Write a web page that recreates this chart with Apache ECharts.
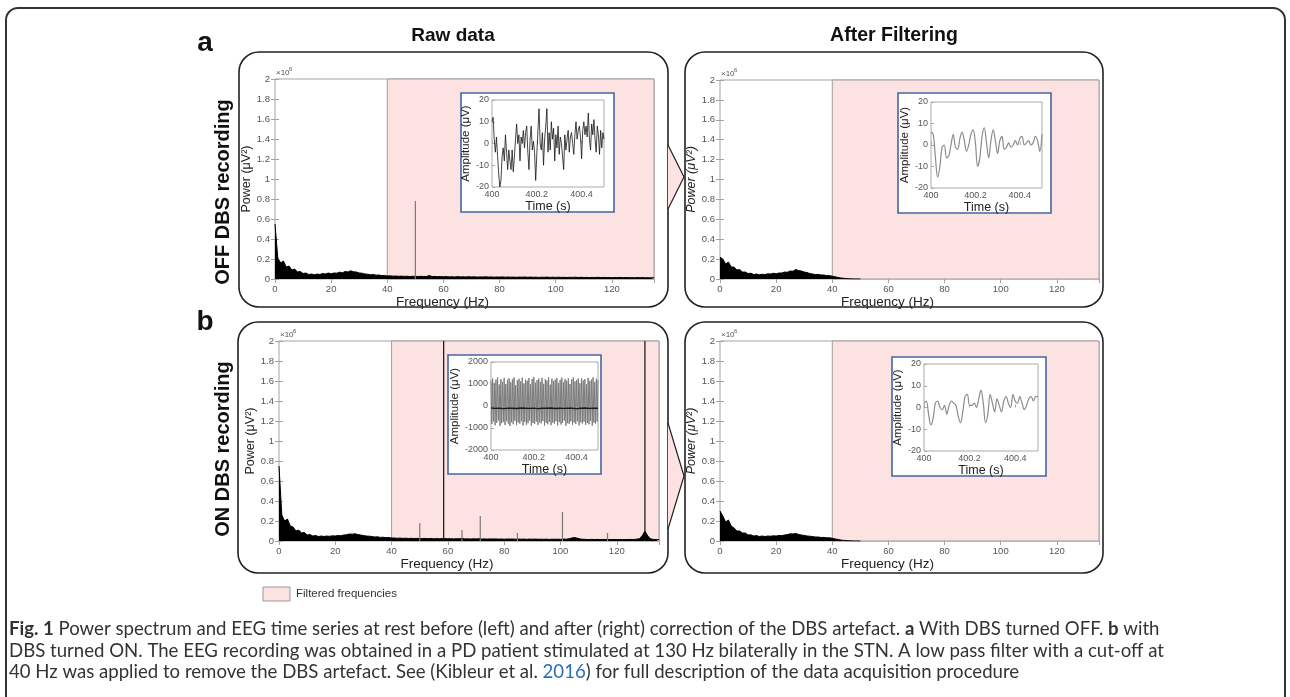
<!DOCTYPE html>
<html>
<head>
<meta charset="utf-8">
<title>Power spectrum and EEG before / after DBS artefact correction</title>
<script src="https://cdn.jsdelivr.net/npm/echarts@6/dist/echarts.min.js"></script>
<style>
html, body { margin: 0; padding: 0; background: #fff; }
#fig { width: 1290px; height: 697px; }
</style>
</head>
<body>
<div id="fig"></div>
<script>
// ---- values ----
// power spectra: one value per 1 Hz bin from 0 Hz, unit 10^6 µV²
var offRawPower = [
  0.55, 0.21, 0.16, 0.18, 0.12, 0.13, 0.09, 0.10, 0.07, 0.075,
  0.055, 0.06, 0.045, 0.05, 0.042, 0.05, 0.045, 0.055, 0.05, 0.06,
  0.052, 0.06, 0.058, 0.068, 0.062, 0.075, 0.07, 0.082, 0.072, 0.07,
  0.06, 0.058, 0.05, 0.048, 0.042, 0.045, 0.038, 0.04, 0.034, 0.036,
  0.03, 0.032, 0.028, 0.03, 0.027, 0.029, 0.026, 0.028, 0.025, 0.027,
  0.026, 0.025, 0.027, 0.024, 0.026, 0.035, 0.024, 0.025, 0.023, 0.025,
  0.022, 0.024, 0.021, 0.023, 0.02, 0.024, 0.021, 0.022, 0.02, 0.023,
  0.021, 0.022, 0.019, 0.021, 0.02, 0.022, 0.019, 0.021, 0.018, 0.02,
  0.019, 0.021, 0.018, 0.02, 0.018, 0.019, 0.017, 0.019, 0.018, 0.02,
  0.017, 0.019, 0.017, 0.018, 0.016, 0.018, 0.017, 0.019, 0.016, 0.018,
  0.016, 0.018, 0.016, 0.017, 0.015, 0.017, 0.016, 0.018, 0.015, 0.017,
  0.015, 0.016, 0.014, 0.016, 0.015, 0.017, 0.014, 0.016, 0.014, 0.015,
  0.013, 0.015, 0.014, 0.016, 0.013, 0.015, 0.013, 0.014, 0.012, 0.014,
  0.013, 0.014, 0.012, 0.013, 0.012, 0.013
];
var offFiltPower = [
  0.22, 0.2, 0.15, 0.17, 0.12, 0.12, 0.09, 0.095, 0.07, 0.07,
  0.055, 0.058, 0.045, 0.05, 0.042, 0.048, 0.045, 0.052, 0.05, 0.058,
  0.052, 0.06, 0.06, 0.07, 0.068, 0.08, 0.078, 0.095, 0.085, 0.08,
  0.07, 0.065, 0.055, 0.05, 0.045, 0.046, 0.04, 0.04, 0.034, 0.034,
  0.028, 0.022, 0.016, 0.011, 0.007, 0.004, 0.002, 0.001, 0, 0,
  0
];
var onRawPower = [
  0.75, 0.26, 0.2, 0.22, 0.15, 0.14, 0.1, 0.11, 0.08, 0.085,
  0.06, 0.065, 0.05, 0.055, 0.045, 0.05, 0.045, 0.05, 0.047, 0.052,
  0.05, 0.055, 0.052, 0.06, 0.062, 0.07, 0.068, 0.072, 0.065, 0.06,
  0.055, 0.05, 0.048, 0.045, 0.04, 0.042, 0.036, 0.038, 0.033, 0.035,
  0.03, 0.03, 0.027, 0.029, 0.026, 0.028, 0.025, 0.027, 0.024, 0.026,
  0.025, 0.024, 0.026, 0.023, 0.025, 0.022, 0.024, 0.022, 0.025, 0.024,
  0.022, 0.023, 0.021, 0.023, 0.022, 0.026, 0.021, 0.022, 0.02, 0.022,
  0.021, 0.023, 0.02, 0.021, 0.019, 0.021, 0.02, 0.021, 0.019, 0.02,
  0.018, 0.02, 0.019, 0.02, 0.018, 0.02, 0.018, 0.019, 0.017, 0.019,
  0.018, 0.019, 0.017, 0.018, 0.017, 0.018, 0.016, 0.018, 0.017, 0.018,
  0.017, 0.019, 0.018, 0.022, 0.03, 0.034, 0.028, 0.02, 0.017, 0.016,
  0.015, 0.016, 0.015, 0.016, 0.014, 0.016, 0.015, 0.016, 0.014, 0.015,
  0.014, 0.015, 0.014, 0.015, 0.014, 0.016, 0.015, 0.018, 0.022, 0.05,
  0.1, 0.05, 0.022, 0.016, 0.014, 0.014
];
var onFiltPower = [
  0.3, 0.25, 0.19, 0.21, 0.15, 0.13, 0.1, 0.1, 0.08, 0.08,
  0.06, 0.062, 0.05, 0.054, 0.045, 0.05, 0.045, 0.05, 0.048, 0.052,
  0.05, 0.055, 0.054, 0.06, 0.064, 0.072, 0.07, 0.075, 0.066, 0.06,
  0.056, 0.05, 0.048, 0.044, 0.04, 0.04, 0.035, 0.036, 0.032, 0.032,
  0.027, 0.021, 0.015, 0.01, 0.006, 0.004, 0.002, 0.001, 0, 0,
  0
];

// narrow line peaks in the raw spectra
var offRawPeakHz = [50];
var offRawPeakPow = [0.78];
var onRawPeakHz = [50, 58.5, 65, 71.5, 84.7, 100.7, 116.7, 130];
var onRawPeakPow = [0.18, 2.5, 0.11, 0.25, 0.08, 0.29, 0.08, 2.5];

var cutoffHz = 40;
var maxHz = 135;

// inset EEG traces from 400 s to 400.5 s (µV)
var offRawTrace = [ // every 5 ms
  10, 12, 2, -4, 3, -6, -14, -20, -17, -6,
  -2, -8, 4, -4, -12, -3, -8, -12, -3, -13,
  -6, 2, 9, 0, 4, -8, 3, 0, 6, -2,
  5, 8, -4, -12, 2, 8, -3, 1, -4, -17,
  -5, 6, 16, 0, -3, 5, -10, 2, 8, 16,
  -4, 5, -3, 10, 2, 7, -8, 4, -2, 8,
  -5, 3, 0, -6, -12, 4, -3, 2, 6, -4,
  3, 5, 0, -5, 4, 10, 2, 6, 8, 3,
  -7, 6, 10, 4, 8, 3, 14, 2, -3, 9,
  4, 11, 2, -4, 8, 4, -5, 6, -2, 5,
  2
];
var offFiltTrace = [ // every 10 ms
  6, 5, -6, -15, -10, -1, 0, -6, -5, 0,
  5, -1, -2, 3, 6, 2, -3, 0, 5, 7,
  1, -10, -6, 4, 8, 1, -6, 2, 7, 2,
  -4, 2, 4, -2, -1, 1, -1, 0, 2, 0,
  3, 4, 0, 1, 2, 0, 1, 4, 2, -3,
  5
];
// stimulation artefact: alternating peaks and troughs (130 Hz)
var onRawPeaks = [
  1150, 1250, 1050, 1200, 1300, 980, 1220, 1100, 1280, 1000,
  1190, 1260, 1080, 1210, 1300, 950, 1170, 1240, 1120, 1290,
  1030, 1200, 1150, 1270, 990, 1230, 1310, 1060, 1180, 1250,
  1100, 1280, 1010, 1220, 1160, 1300, 970, 1240, 1130, 1200,
  1270, 1050, 1190, 1290, 1080, 1230, 1150, 1260, 1000, 1210,
  1300, 1120, 1180, 1250, 1040, 1270, 1160, 1220, 990, 1280,
  1140, 1200, 1300, 1090, 1240, 1170
];
var onRawTroughs = [
  -820, -700, -880, -760, -650, -900, -780, -720, -860, -690,
  -800, -910, -740, -830, -670, -870, -750, -800, -690, -880,
  -720, -850, -780, -660, -900, -770, -820, -700, -860, -740,
  -790, -680, -890, -760, -830, -710, -870, -750, -800, -690,
  -880, -730, -840, -770, -660, -900, -780, -810, -700, -860,
  -750, -820, -690, -880, -740, -800, -720, -860, -770, -830,
  -680, -890, -760, -800, -710
];
var onRawBaseline = [ // every 20 ms
  -90, -110, -100, -120, -95, -105, -115, -90, -100, -110,
  -95, -120, -100, -105, -90, -115, -100, -110, -95, -105,
  -120, -100, -90, -110, -100, -105
];
var onFiltTrace = [ // every 10 ms
  2, 3, -3, -8, -5, 2, 3, 0, -1, 1,
  -3, 1, 3, 2, 1, -4, -7, -2, 5, 6,
  1, 1, 2, 0, 4, 8, 2, -7, -3, 6,
  2, -2, 4, 1, -2, 3, 5, 2, 0, 6,
  3, 2, 5, 2, -1, 1, 4, 5, 3, 5,
  5
];

// ---- chart ----
var PINK = '#fde2e2';
var AX = '#a3a3a3';
var TICKTXT = '#555';
var SANS = '"Liberation Sans", Arial, sans-serif';
var CAPFONT = 'Lato, "Noto Sans", sans-serif';

function pairs(vals, start, step) {
  return vals.map(function (v, i) { return [start + i * step, v]; });
}
function fmtPow(v) { return String(Math.round(v * 10) / 10); }
function fmtTime(v) { return v === 0 ? '400' : (400 + v).toFixed(1); }

var grids = [], xAxes = [], yAxes = [], series = [], graphics = [];

function addSpectrum(g, power, peakHz, peakPow, italic) {
  var gi = grids.length;
  grids.push({ left: g.left, top: g.top, width: g.width, height: g.height,
    show: true, borderColor: AX, borderWidth: 1, backgroundColor: '#fff' });
  var xi = xAxes.length, yi = yAxes.length;
  var tick = { inside: true, length: 4, lineStyle: { color: AX } };
  xAxes.push({
    gridIndex: gi, type: 'value', min: 0, max: maxHz, interval: 20, position: 'bottom',
    axisLine: { show: false }, axisTick: tick, splitLine: { show: false },
    axisLabel: { color: TICKTXT, fontSize: 9.5, margin: 5, fontFamily: SANS, showMaxLabel: false },
    name: 'Frequency (Hz)', nameLocation: 'middle', nameGap: 14,
    nameTextStyle: { color: '#222', fontSize: 13.5, fontFamily: SANS, padding: [0, 44, 0, 0] }
  });
  xAxes.push({
    gridIndex: gi, type: 'value', min: 0, max: maxHz, interval: 20, position: 'top',
    axisLine: { show: false }, axisTick: tick, axisLabel: { show: false }, splitLine: { show: false }
  });
  yAxes.push({
    gridIndex: gi, type: 'value', min: 0, max: 2, interval: 0.2, position: 'left',
    axisLine: { show: false }, axisTick: tick, splitLine: { show: false },
    axisLabel: { color: TICKTXT, fontSize: 9.5, margin: 5, fontFamily: SANS, formatter: fmtPow },
    name: 'Power (μV²)', nameLocation: 'middle', nameGap: 19,
    nameTextStyle: { color: '#222', fontSize: 12.5, fontFamily: SANS, fontStyle: italic ? 'italic' : 'normal' }
  });
  yAxes.push({
    gridIndex: gi, type: 'value', min: 0, max: 2, interval: 0.2, position: 'right',
    axisLine: { show: false }, axisTick: tick, axisLabel: { show: false }, splitLine: { show: false }
  });
  // filtered band
  series.push({
    type: 'line', xAxisIndex: xi, yAxisIndex: yi, data: [[cutoffHz, 0]], symbol: 'none',
    lineStyle: { opacity: 0 }, silent: true, z: 1,
    markArea: { silent: true, itemStyle: { color: PINK, borderColor: '#9d9d9d', borderWidth: 1 },
      data: [[{ xAxis: cutoffHz }, { xAxis: maxHz }]] }
  });
  series.push({
    type: 'line', xAxisIndex: xi, yAxisIndex: yi, data: pairs(power, 0, 1),
    symbol: 'none', silent: true, z: 3,
    lineStyle: { color: '#000', width: 1 }, areaStyle: { color: '#000', opacity: 1 }
  });
  if (peakHz.length) {
    series.push({
      type: 'bar', xAxisIndex: xi, yAxisIndex: yi, barWidth: 1.2, silent: true, z: 4,
      data: peakHz.map(function (f, i) {
        return { value: [f, peakPow[i]], itemStyle: { color: peakPow[i] > 2 ? '#111' : '#7a7a7a' } };
      })
    });
  }
  graphics.push({ type: 'text', x: g.left + 1, y: g.top - 6, z: 20,
    style: { text: '×10', fontSize: 8, fontFamily: SANS, fill: TICKTXT, verticalAlign: 'middle' } });
  graphics.push({ type: 'text', x: g.left + 14, y: g.top - 10, z: 20,
    style: { text: '6', fontSize: 6, fontFamily: SANS, fill: TICKTXT, verticalAlign: 'middle' } });
}

function addInset(box, g, yMin, yMax, yInt, traces) {
  graphics.push({ type: 'rect', z: 6, shape: { x: box.x, y: box.y, width: box.w, height: box.h },
    style: { fill: '#fff', stroke: '#4565a3', lineWidth: 1.6 } });
  var gi = grids.length;
  grids.push({ left: g.left, top: g.top, width: g.width, height: g.height, z: 8,
    show: true, borderColor: '#aaa', borderWidth: 1, backgroundColor: 'transparent' });
  var xi = xAxes.length, yi = yAxes.length;
  var tick = { inside: true, length: 3, lineStyle: { color: '#aaa' } };
  xAxes.push({
    gridIndex: gi, type: 'value', min: 0, max: 0.5, interval: 0.2, z: 9,
    axisLine: { show: false }, axisTick: tick, splitLine: { show: false },
    axisLabel: { color: TICKTXT, fontSize: 9, margin: 3, fontFamily: SANS, formatter: fmtTime, showMaxLabel: false },
    name: 'Time (s)', nameLocation: 'middle', nameGap: 12,
    nameTextStyle: { color: '#222', fontSize: 12.5, fontFamily: SANS }
  });
  yAxes.push({
    gridIndex: gi, type: 'value', min: yMin, max: yMax, interval: yInt, z: 9,
    axisLine: { show: false }, axisTick: tick, splitLine: { show: false },
    axisLabel: { color: TICKTXT, fontSize: 9, margin: 3, fontFamily: SANS, formatter: function (v) { return String(v); } },
    name: 'Amplitude (μV)', nameLocation: 'middle', nameGap: yMax > 100 ? 30 : 14,
    nameTextStyle: { color: '#222', fontSize: 11.5, fontFamily: SANS }
  });
  traces.forEach(function (t) {
    series.push({
      type: 'line', xAxisIndex: xi, yAxisIndex: yi, data: t.data, symbol: 'none',
      silent: true, z: 9, smooth: t.smooth || false,
      lineStyle: { color: t.color, width: t.width }
    });
  });
}

// spectra
addSpectrum({ left: 275, top: 79, width: 379, height: 200 }, offRawPower, offRawPeakHz, offRawPeakPow, false);
addSpectrum({ left: 720, top: 80, width: 379, height: 199 }, offFiltPower, [], [], true);
addSpectrum({ left: 279, top: 341, width: 380, height: 200 }, onRawPower, onRawPeakHz, onRawPeakPow, false);
addSpectrum({ left: 720, top: 341, width: 379, height: 200 }, onFiltPower, [], [], true);

// insets
var onRawAlt = [];
onRawPeaks.forEach(function (p, i) {
  onRawAlt.push(p);
  if (i < onRawTroughs.length) onRawAlt.push(onRawTroughs[i]);
});
addInset({ x: 461, y: 93, w: 153, h: 119 }, { left: 492, top: 100, width: 112, height: 87 }, -20, 20, 10,
  [{ data: pairs(offRawTrace, 0, 0.005), color: '#151515', width: 0.8 }]);
addInset({ x: 898, y: 93, w: 153, h: 120 }, { left: 931, top: 102, width: 111, height: 86 }, -20, 20, 10,
  [{ data: pairs(offFiltTrace, 0, 0.01), color: '#8c8c8c', width: 1.2, smooth: 0.35 }]);
addInset({ x: 448, y: 355, w: 153, h: 119 }, { left: 491, top: 362, width: 107, height: 88 }, -2000, 2000, 1000,
  [{ data: pairs(onRawAlt, 0, 0.5 / (onRawAlt.length - 1)), color: '#7c7c7c', width: 1 },
   { data: pairs(onRawBaseline, 0, 0.02), color: '#1a1a1a', width: 1.4 }]);
addInset({ x: 892, y: 357, w: 154, h: 119 }, { left: 924, top: 364, width: 114, height: 87 }, -20, 20, 10,
  [{ data: pairs(onFiltTrace, 0, 0.01), color: '#8c8c8c', width: 1.2, smooth: 0.35 }]);

// frames, labels, arrows, legend, caption
var boxStyle = { fill: 'none', stroke: '#222', lineWidth: 1.6 };
graphics.push(
  { type: 'rect', z: 0, shape: { x: 6, y: 8, width: 1279, height: 720, r: 12 }, style: { fill: 'none', stroke: '#333', lineWidth: 2 } },
  { type: 'rect', z: 0, shape: { x: 239, y: 52, width: 429, height: 255, r: 20 }, style: boxStyle },
  { type: 'rect', z: 0, shape: { x: 685, y: 52, width: 418, height: 255, r: 20 }, style: boxStyle },
  { type: 'rect', z: 0, shape: { x: 238, y: 322, width: 430, height: 251, r: 20 }, style: boxStyle },
  { type: 'rect', z: 0, shape: { x: 685, y: 322, width: 418, height: 251, r: 20 }, style: boxStyle },
  { type: 'polygon', z: 1, shape: { points: [[668, 145], [684, 177], [668, 209]] }, style: { fill: PINK } },
  { type: 'polyline', z: 1, shape: { points: [[668, 145], [684, 177], [668, 209]] }, style: { stroke: '#222', lineWidth: 1.2 } },
  { type: 'polygon', z: 1, shape: { points: [[668, 423], [684, 476], [668, 529]] }, style: { fill: PINK } },
  { type: 'polyline', z: 1, shape: { points: [[668, 423], [684, 476], [668, 529]] }, style: { stroke: '#222', lineWidth: 1.2 } },
  { type: 'text', x: 205, y: 43, style: { text: 'a', fontSize: 28, fontWeight: 'bold', fontFamily: SANS, fill: '#111', align: 'center', verticalAlign: 'middle' } },
  { type: 'text', x: 205, y: 322, style: { text: 'b', fontSize: 28, fontWeight: 'bold', fontFamily: SANS, fill: '#111', align: 'center', verticalAlign: 'middle' } },
  { type: 'text', x: 453, y: 36, style: { text: 'Raw data', fontSize: 19, fontWeight: 'bold', fontFamily: SANS, fill: '#111', align: 'center', verticalAlign: 'middle' } },
  { type: 'text', x: 894, y: 36, style: { text: 'After Filtering', fontSize: 19.5, fontWeight: 'bold', fontFamily: SANS, fill: '#111', align: 'center', verticalAlign: 'middle' } },
  { type: 'text', x: 223, y: 192, rotation: Math.PI / 2, style: { text: 'OFF DBS recording', fontSize: 20, fontWeight: 'bold', fontFamily: SANS, fill: '#111', align: 'center', verticalAlign: 'middle' } },
  { type: 'text', x: 223, y: 449, rotation: Math.PI / 2, style: { text: 'ON DBS recording', fontSize: 20, fontWeight: 'bold', fontFamily: SANS, fill: '#111', align: 'center', verticalAlign: 'middle' } },
  { type: 'rect', z: 0, shape: { x: 263, y: 587, width: 27, height: 14 }, style: { fill: PINK, stroke: '#999', lineWidth: 1 } },
  { type: 'text', x: 296, y: 594, style: { text: 'Filtered frequencies', fontSize: 11.5, fontFamily: SANS, fill: '#333', verticalAlign: 'middle' } }
);

var capSize = 18.6;
var capFont = { fontSize: capSize, fontFamily: CAPFONT, fill: '#333' };
var capRich = {
  b: { fontSize: capSize, fontFamily: CAPFONT, fontWeight: 'bold', fill: '#333' },
  l: { fontSize: capSize, fontFamily: CAPFONT, fill: '#2a6ebb' }
};
var captionLines = [
  '{b|Fig. 1} Power spectrum and EEG time series at rest before (left) and after (right) correction of the DBS artefact. {b|a} With DBS turned OFF. {b|b} with',
  'DBS turned ON. The EEG recording was obtained in a PD patient stimulated at 130 Hz bilaterally in the STN. A low pass filter with a cut-off at',
  '40 Hz was applied to remove the DBS artefact. See (Kibleur et al. {l|2016}) for full description of the data acquisition procedure'
];
captionLines.forEach(function (line, i) {
  graphics.push({ type: 'text', x: 9, y: 629 + i * 21.5, z: 20,
    style: Object.assign({ text: line, rich: capRich, verticalAlign: 'middle' }, capFont) });
});

var chart = echarts.init(document.getElementById('fig'), null, { renderer: 'canvas' });
chart.setOption({
  animation: false,
  backgroundColor: '#fff',
  grid: grids,
  xAxis: xAxes,
  yAxis: yAxes,
  series: series,
  graphic: { elements: graphics }
});
</script>
</body>
</html>
